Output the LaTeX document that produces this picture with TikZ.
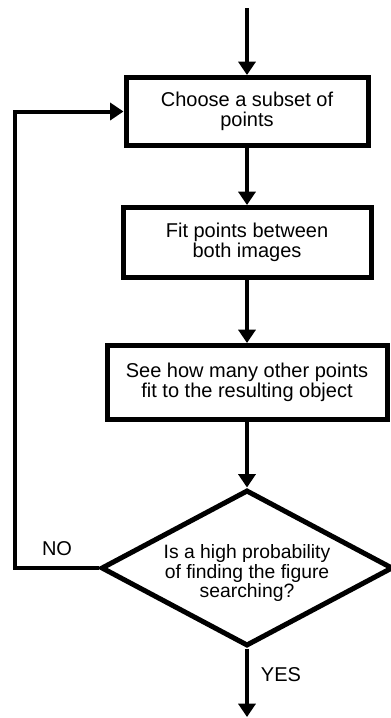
\documentclass[tikz,border=0pt]{standalone}
\usepackage{fontspec}
\setmainfont{Liberation Sans}
\usetikzlibrary{arrows.meta,shapes.geometric}

\tikzset{every picture/.style={line width=0.75pt}}
\tikzset{
  stepbox/.style={draw, line width=3.75pt, inner sep=0pt, align=center, font=\fontsize{15}{14.6}\selectfont},
  testbox/.style={draw, diamond, shape aspect=1.87, line width=3.75pt, inner sep=0pt, align=center, font=\fontsize{14.5}{14.6}\selectfont,
    minimum width=214.5pt, minimum height=113pt},
  flow/.style={line width=3pt, -{Triangle[width=12.75pt,length=10pt]}},
  answer/.style={inner sep=0.75pt, font=\fontsize{15}{14.6}\selectfont}
}

\begin{document}
\begin{tikzpicture}[x=0.75pt,y=0.75pt,yscale=-1,xscale=1]
    \useasboundingbox (0,0) rectangle (390,718);

    %Shape: Rectangle [id:choose]
    \node [stepbox, minimum width=181.5pt, minimum height=51pt] (choose) at (247,111.5) {Choose a subset of\\points};
    %Shape: Rectangle [id:fit]
    \node [stepbox, minimum width=186pt, minimum height=52.5pt] (fit) at (247,242.5) {Fit points between\\both images};
    %Shape: Rectangle [id:count]
    \node [stepbox, minimum width=210pt, minimum height=55.5pt] (count) at (247,382.5) {See how many other points\\fit to the resulting object};
    %Shape: Diamond [id:test]
    \node [testbox] (test) at (247,568) {\rule{0pt}{18pt}Is a high probability\\of finding the figure\\searching?};

    \coordinate (start) at (247,8);
    \coordinate (back) at (15,340);
    \coordinate (finish) at (247,717);

    %Straight Lines [id:entry]
    \draw [flow] (start) -- (choose.north);
    %Straight Lines [id:step1]
    \draw [flow] (choose.south) -- (fit.north);
    %Straight Lines [id:step2]
    \draw [flow] (fit.south) -- (count.north);
    %Straight Lines [id:step3]
    \draw [flow] (count.south) -- (test.north);
    %Straight Lines [id:no]
    \draw [flow] (test.west) -| (back) |- (choose.west);
    %Straight Lines [id:yes]
    \draw [flow] (test.south) -- (finish);

    % Text Node
    \node [answer] (nolbl) at (57,549) {NO};
    % Text Node
    \node [answer] (yeslbl) at (281,675) {YES};

\end{tikzpicture}
\end{document}
